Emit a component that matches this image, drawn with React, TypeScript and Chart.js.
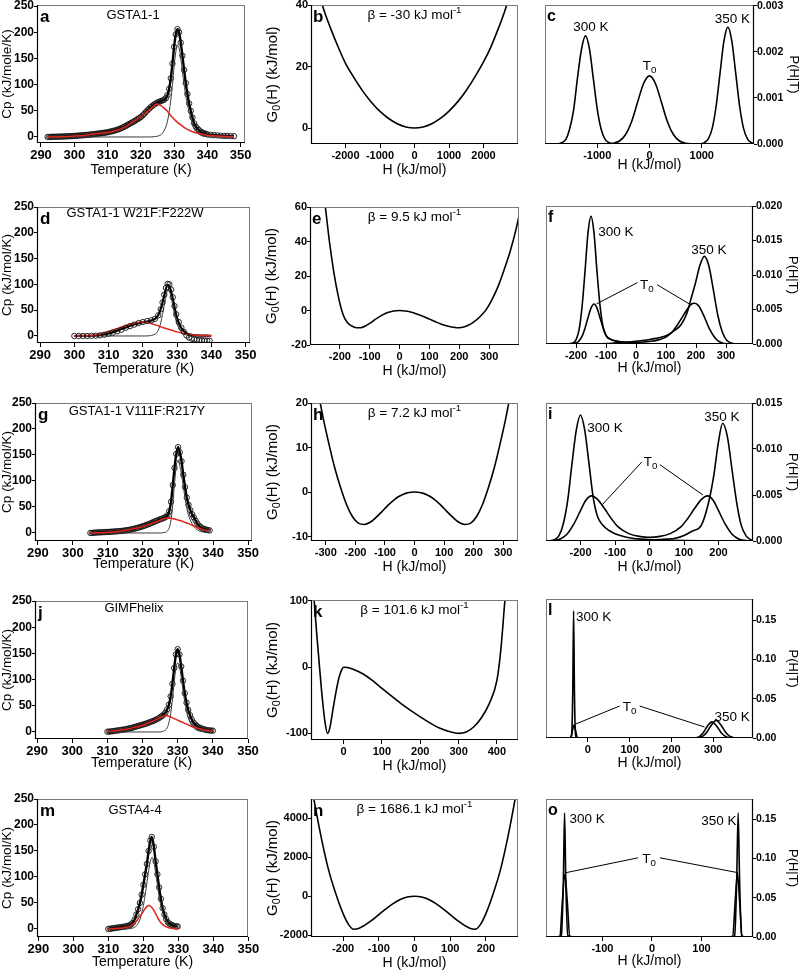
import React, { useEffect, useRef } from 'react';
import { Chart, registerables } from 'chart.js';

Chart.register(...registerables);

const FONT = "'Liberation Sans', Arial, Helvetica, sans-serif";
const RED = '#e1261c';
const GRAY = '#3a3a3a';

// ---------------- tick labels ----------------
const T_TICKS = [290, 300, 310, 320, 330, 340, 350];
const CP_TICKS = [0, 50, 100, 150, 200, 250];

// ---------------- panel a : GSTA1-1 ----------------
const aT = [292, 292.5, 293, 293.5, 294, 294.5, 295, 295.5, 296, 296.5, 297, 297.5, 298, 298.5, 299, 299.5, 300, 300.5, 301, 301.5, 302, 302.5, 303, 303.5, 304, 304.5, 305, 305.5, 306, 306.5, 307, 307.5, 308, 308.5, 309, 309.5, 310, 310.5, 311, 311.5, 312, 312.5, 313, 313.5, 314, 314.5, 315, 315.5, 316, 316.5, 317, 317.5, 318, 318.5, 319, 319.5, 320, 320.5, 321, 321.5, 322, 322.5, 323, 323.5, 324, 324.5, 325, 325.5, 326, 326.5, 327, 327.5, 328, 328.5, 329, 329.5, 330, 330.5, 331, 331.5, 332, 332.5, 333, 333.5, 334, 334.5, 335, 335.5, 336, 336.5, 337, 337.5, 338, 338.5, 339, 339.5, 340, 341, 342, 343, 344, 345, 346, 347, 348];
const aCp = [0, 0.1, 0.2, 0.3, 0.4, 0.5, 0.6, 0.7, 0.8, 0.9, 1, 1.2, 1.3, 1.5, 1.6, 1.8, 2, 2.2, 2.5, 2.7, 3, 3.2, 3.5, 3.8, 4, 4.4, 4.8, 5.2, 5.5, 5.9, 6.3, 6.7, 7.2, 7.6, 8, 8.5, 9, 9.7, 10.5, 11.2, 12, 13, 14, 15.2, 16.5, 18, 19.5, 21.2, 23, 24.7, 26.5, 28.2, 30, 32, 34, 36, 38, 41, 44, 47.5, 51, 54, 57, 59.5, 62, 64, 66, 67.2, 68.5, 69.7, 71, 74, 80, 92, 112, 140, 172, 196, 206, 200, 180, 155, 128, 103, 82, 64, 50, 37, 26, 20, 16, 13, 10, 8.5, 7, 6, 5, 4, 3.5, 3, 2.5, 2, 2, 1.5, 1.5];
const aRedT = [292, 296, 300, 304, 308, 310, 312, 314, 316, 318, 320, 322, 323.5, 324.8, 326, 327, 328, 329, 330, 331, 332, 333, 334, 335, 336, 338, 340, 343, 346, 348];
const aRedCp = [0, 0.5, 1.8, 4, 7, 8.5, 11.5, 15.5, 22, 30, 38.5, 49, 57, 63, 60, 55, 49, 41, 34, 28, 23, 18.5, 14.5, 11.5, 9, 5.5, 3.5, 1.8, 1, 0.8];
const aPkT = [292, 322, 324, 325, 326, 327, 328, 329, 329.5, 330, 330.5, 331, 331.5, 332, 332.5, 333, 333.5, 334, 335, 336, 337, 338, 340, 342, 348];
const aPkCp = [0, 0, 0.5, 1.5, 4, 12, 30, 70, 100, 135, 162, 175, 170, 150, 125, 100, 78, 62, 36, 16, 8, 3, 0.5, 0, 0];

// ---------------- panel d : GSTA1-1 W21F:F222W ----------------
const dT = [300, 301.25, 302.5, 303.75, 305, 306.25, 307.5, 308.75, 310, 311.25, 312.5, 313.75, 315, 316.25, 317.5, 318.75, 320, 321.25, 322.5, 323.5, 324.5, 325.25, 325.75, 326.25, 326.75, 327.25, 327.75, 328.25, 328.75, 329.25, 329.75, 330.5, 331.25, 332, 332.75, 333.5, 334.25, 335, 335.75, 336.5, 337.25, 338, 338.75, 339.5];
const dCp = [0, 0, 0, 0, 0.3, 0.6, 1.2, 2.5, 4.5, 6.5, 9, 12, 16, 19, 22, 25, 27, 29, 30.5, 33, 40, 52, 65, 80, 93, 101, 100, 90, 75, 58, 42, 27, 16, 8, 1, -3, -5, -6.5, -7.5, -8, -8.3, -8.6, -9, -9];
const dFitT = [300, 305, 308, 310, 312, 314, 316, 318, 319.5, 321, 322.5, 323.5, 324.5, 325.5, 326.5, 327.2, 327.8, 328.5, 329.3, 330, 331, 332, 333, 334, 336, 340];
const dFitCp = [0, 0.5, 2.5, 5, 9, 14, 19, 23.5, 26, 28, 30, 33, 40, 58, 85, 99, 96, 80, 55, 35, 18, 9, 4.5, 2.5, 1, 0.5];
const dRedT = [300, 303, 305, 307, 309, 311, 313, 315, 317, 319, 320, 321, 322, 323, 324, 325, 326, 327, 328, 329, 330, 331, 332, 334, 336, 338, 340];
const dRedCp = [0, 0.3, 1, 3, 6.5, 11, 15.5, 20, 24, 26.5, 27, 26.5, 25, 23, 21, 18.5, 16, 14, 12, 10, 8, 6.5, 5, 3, 1.5, 0.8, 0.5];
const dPkT = [300, 321, 322, 323, 324, 325, 326, 326.5, 327, 327.5, 328, 328.5, 329, 329.5, 330, 331, 332, 333, 334, 336, 340];
const dPkCp = [0, 0, 0.5, 2, 6, 20, 50, 68, 84, 90, 82, 68, 50, 35, 24, 10, 4, 1.5, 0.5, 0, 0];

// ---------------- panel g : GSTA1-1 V111F:R217Y ----------------
const gT = [305, 305.5, 306, 306.5, 307, 307.5, 308, 308.5, 309, 309.5, 310, 310.5, 311, 311.5, 312, 312.5, 313, 313.5, 314, 314.5, 315, 315.5, 316, 316.5, 317, 317.5, 318, 318.5, 319, 319.5, 320, 320.5, 321, 321.5, 322, 322.5, 323, 323.5, 324, 324.5, 325, 325.5, 326, 326.5, 327, 327.5, 328, 328.5, 329, 329.5, 330, 330.5, 331, 331.5, 332, 332.5, 333, 333.5, 334, 334.5, 335, 335.5, 336, 336.5, 337, 337.5, 338, 338.5, 339];
const gCp = [0, 0.2, 0.5, 0.7, 1, 1.2, 1.3, 1.5, 1.7, 1.9, 2, 2.2, 2.5, 2.7, 3, 3.2, 3.5, 3.7, 4, 4.5, 5, 5.5, 6, 6.7, 7.5, 8.2, 9, 10, 11, 12, 13, 14.2, 15.5, 16.7, 18, 19.5, 21, 22.5, 24, 25.2, 26.5, 27.7, 29, 31, 34, 42, 60, 92, 125, 152, 165, 155, 138, 112, 88, 68, 54, 44, 36, 30, 24, 18, 14, 11, 9, 7.5, 6.5, 5.7, 5];
const gRedT = [305, 310, 314, 318, 320, 322, 324, 326, 327, 328, 329, 330, 331, 332, 333, 334, 335, 336, 337, 338, 339];
const gRedCp = [0, 1.5, 4, 9, 12.5, 17, 22, 27.5, 29, 28.5, 27, 25, 23, 20.5, 18, 15, 12, 9, 7, 5.5, 4.5];
const gPkT = [305, 325, 326, 327, 328, 328.5, 329, 329.5, 330, 330.5, 331, 331.5, 332, 332.5, 333, 334, 335, 336, 337, 338, 339];
const gPkCp = [0, 0, 1, 4, 25, 55, 95, 128, 140, 130, 112, 90, 67, 48, 34, 18, 9, 4, 2, 1, 0.5];

// ---------------- panel j : GIMFhelix ----------------
const jT = [310, 310.5, 311, 311.5, 312, 312.5, 313, 313.5, 314, 314.5, 315, 315.5, 316, 316.5, 317, 317.5, 318, 318.5, 319, 319.5, 320, 320.5, 321, 321.5, 322, 322.5, 323, 323.5, 324, 324.5, 325, 325.5, 326, 326.5, 327, 327.5, 328, 328.5, 329, 329.5, 330, 330.5, 331, 331.5, 332, 332.5, 333, 333.5, 334, 334.5, 335, 335.5, 336, 336.5, 337, 337.5, 338, 338.5, 339, 339.5, 340];
const jCp = [0.5, 0.7, 1, 1.5, 2, 2.5, 3, 3.5, 4, 4.5, 5, 5.7, 6.5, 7.2, 8, 9, 10, 11, 12, 13, 14, 15, 16, 17.2, 18.5, 19.7, 21, 22.5, 24, 26, 28, 30.5, 33, 37, 43, 52, 68, 92, 122, 148, 158, 148, 125, 98, 74, 56, 42, 32, 24, 18, 14, 11, 9, 7.5, 6, 5, 4, 3.5, 3, 2.7, 2.5];
const jRedT = [310, 313, 316, 318, 320, 322, 324, 325.5, 326.5, 327.5, 328.5, 329.5, 330.5, 331.5, 332.5, 333.5, 334.5, 336, 338, 340];
const jRedCp = [1, 3, 6, 9.5, 13, 18, 24, 29, 31.5, 30, 27, 24, 21, 18, 15, 12, 9.5, 6.5, 3.5, 2];
const jPkT = [310, 325, 326, 327, 327.5, 328, 328.5, 329, 329.5, 330, 330.5, 331, 331.5, 332, 332.5, 333, 334, 335, 336, 337, 340];
const jPkCp = [0, 0, 2, 8, 18, 35, 62, 95, 122, 132, 125, 105, 80, 58, 40, 27, 12, 5, 2, 1, 0];

// ---------------- panel m : GSTA4-4 ----------------
const mT = [310, 310.5, 311, 311.5, 312, 312.5, 313, 313.5, 314, 314.5, 315, 315.5, 316, 316.5, 317, 317.5, 318, 318.5, 319, 319.5, 320, 320.5, 321, 321.5, 322, 322.4, 323, 323.5, 324, 324.5, 325, 325.5, 326, 326.5, 327, 327.5, 328, 328.5, 329, 329.5, 329.8];
const mCp = [0, 0.5, 1, 1.5, 2, 2.5, 3, 3.5, 4, 4.5, 5, 6, 7, 9, 12, 18, 28, 38, 50, 66, 85, 105, 125, 150, 170, 177, 158, 130, 105, 80, 58, 40, 28, 19, 13, 10, 8, 6.5, 5, 5, 5];
const mRedT = [310, 312, 314, 316, 317, 318, 319, 320, 320.5, 321, 321.5, 322, 322.5, 323, 323.5, 324, 324.5, 325, 326, 327, 328, 329, 330];
const mRedCp = [0, 1, 2, 5, 9, 15, 24, 34, 39, 43, 45, 44, 41, 36, 30, 23, 17, 12, 6, 3, 1.5, 0.8, 0.5];
const mPkT = [310, 316, 317, 318, 319, 320, 320.5, 321, 321.5, 322, 322.5, 323, 323.5, 324, 324.5, 325, 326, 327, 328, 329, 330];
const mPkCp = [0, 0.5, 2, 6, 18, 45, 65, 88, 112, 130, 138, 128, 108, 85, 62, 45, 22, 10, 4, 1.5, 0.5];

// ---------------- column 2 : G0(H) ----------------
const bH = [-2800, -2600, -2400, -2200, -2000, -1750, -1500, -1250, -1000, -750, -500, -250, 0, 250, 500, 750, 1000, 1250, 1500, 1750, 2000, 2200, 2400, 2600, 2800];
const bG = [44.5, 37.5, 31.5, 26, 21, 16.3, 12, 8.4, 5.4, 3.1, 1.4, 0.35, 0, 0.35, 1.4, 3.1, 5.5, 8.5, 12.2, 16.6, 21.5, 26, 31.5, 37.5, 44.5];

const eH = [-265, -250, -235, -220, -205, -190, -175, -160, -145, -130, -115, -100, -80, -60, -40, -20, 0, 20, 40, 60, 80, 100, 120, 140, 160, 180, 200, 215, 230, 250, 270, 290, 310, 330, 350, 370, 390, 410];
const eG = [80, 62, 40, 22, 8, -2, -7, -9, -10, -10, -9, -7.5, -5, -2.8, -1.2, -0.3, 0, -0.3, -1, -2.2, -3.5, -5, -6.5, -7.9, -9, -9.7, -10, -9.6, -8.6, -6.5, -3.5, 0.5, 6.5, 14, 23.5, 34, 47, 63];

const hH = [-330, -310, -290, -270, -250, -230, -210, -190, -170, -150, -130, -110, -90, -70, -50, -30, -10, 0, 10, 30, 50, 70, 90, 110, 130, 150, 170, 190, 210, 230, 250, 270, 290, 310, 330];
const hG = [24, 17, 11, 5.5, 1, -2.8, -5.5, -7, -7.3, -6.8, -5.7, -4.4, -3, -1.8, -0.9, -0.3, -0.05, 0, -0.05, -0.3, -0.9, -1.8, -3, -4.4, -5.7, -6.8, -7.3, -7, -5.5, -2.8, 1, 5.5, 11, 17, 24];

const kH = [-80, -70, -62, -55, -48, -42, -36, -28, -20, -12, -5, 0, 10, 25, 50, 75, 100, 150, 200, 250, 280, 300, 320, 340, 360, 380, 400, 410, 420, 428];
const kG = [125, 50, -5, -50, -85, -100, -92, -65, -38, -16, -4, 0, -0.5, -3, -10, -20, -32, -55, -75, -92, -98, -100, -98, -90, -76, -55, -20, 25, 95, 150];

const nH = [-300, -280, -260, -240, -220, -200, -185, -170, -155, -140, -120, -100, -80, -60, -40, -20, 0, 20, 40, 60, 80, 100, 120, 140, 155, 170, 185, 200, 220, 240, 260, 280, 300];
const nG = [7000, 4800, 2900, 1300, 100, -900, -1450, -1700, -1650, -1500, -1250, -950, -650, -380, -170, -40, 0, -40, -170, -380, -650, -950, -1250, -1500, -1650, -1700, -1450, -900, 100, 1300, 2900, 4800, 7000];

// ---------------- column 3 : P(H|T) ----------------
const c300H = [-2000, -1760, -1680, -1600, -1530, -1450, -1380, -1300, -1225, -1150, -1075, -1000, -925, -850, -770, -700, -600];
const c300P = [0, 0.000005, 0.00003, 0.0001, 0.00032, 0.00076, 0.00142, 0.00207, 0.00235, 0.00207, 0.00142, 0.00076, 0.00032, 0.0001, 0.00003, 0.000005, 0];
const cT0H = [-1000, -805, -690, -575, -460, -345, -230, -115, 0, 115, 230, 345, 460, 575, 690, 805, 1000];
const cT0P = [0, 0.000003, 0.000016, 0.000065, 0.0002, 0.00048, 0.0009, 0.00131, 0.00148, 0.00131, 0.0009, 0.00048, 0.0002, 0.000065, 0.000016, 0.000003, 0];
const c350H = [800, 975, 1050, 1125, 1200, 1275, 1350, 1425, 1500, 1575, 1650, 1725, 1800, 1875, 1950, 2000];
const c350P = [0, 0.000006, 0.00003, 0.00011, 0.00034, 0.00082, 0.00154, 0.00224, 0.00254, 0.00224, 0.00154, 0.00082, 0.00034, 0.00011, 0.00003, 0.00001];

const f300H = [-230, -210, -200, -190, -180, -170, -160, -150, -140, -130, -120, -110, -100, -80, -60, -30, 0, 50, 100];
const f300P = [0, 0.00013, 0.0006, 0.002, 0.0053, 0.0105, 0.0161, 0.0185, 0.0161, 0.0105, 0.0056, 0.0025, 0.0012, 0.0006, 0.0004, 0.0002, 0.0001, 0.00004, 0];
const fT0H = [-230, -200, -190, -180, -170, -160, -150, -140, -130, -120, -110, -100, -90, -75, -50, -25, 0, 25, 50, 75, 100, 120, 140, 160, 175, 185, 195, 205, 215, 230, 245, 260, 275, 290, 310];
const fT0P = [0, 0.00014, 0.00044, 0.0011, 0.0023, 0.0038, 0.0052, 0.0058, 0.0052, 0.0038, 0.0024, 0.0013, 0.0008, 0.0005, 0.0003, 0.00025, 0.00025, 0.0003, 0.0004, 0.0006, 0.001, 0.0017, 0.0029, 0.0043, 0.0053, 0.0058, 0.0059, 0.0057, 0.0051, 0.0037, 0.0022, 0.0011, 0.0004, 0.0001, 0];
const f350H = [-150, -100, -50, 0, 50, 100, 130, 150, 170, 185, 198, 213, 228, 243, 258, 273, 288, 303, 320, 335];
const f350P = [0, 0.00005, 0.0002, 0.0004, 0.0007, 0.0012, 0.002, 0.0028, 0.0045, 0.0068, 0.0088, 0.0114, 0.0127, 0.0113, 0.0078, 0.0041, 0.0017, 0.0005, 0.0001, 0];

const i300H = [-300, -287, -275, -262, -250, -237, -225, -212, -200, -188, -175, -163, -150, -135, -120, -100, -75, -50, -25, 0, 50, 100, 150, 200];
const i300P = [0, 0.00003, 0.00015, 0.0006, 0.00185, 0.00445, 0.0083, 0.0121, 0.0137, 0.0121, 0.0083, 0.0047, 0.0026, 0.0017, 0.0012, 0.0008, 0.0005, 0.0003, 0.0002, 0.00015, 0.0001, 0.00005, 0.00002, 0];
const iT0H = [-290, -260, -240, -220, -200, -185, -168, -150, -130, -110, -90, -60, -30, 0, 30, 60, 90, 110, 130, 150, 168, 185, 200, 220, 240, 260, 290];
const iT0P = [0, 0.0002, 0.0007, 0.0018, 0.0033, 0.0044, 0.0049, 0.0045, 0.0035, 0.0024, 0.0015, 0.0008, 0.0005, 0.0004, 0.0005, 0.0008, 0.0015, 0.0024, 0.0035, 0.0045, 0.0049, 0.0044, 0.0033, 0.0018, 0.0007, 0.0002, 0];
const i350H = [-200, -100, -50, 0, 50, 75, 100, 125, 150, 170, 185, 200, 212, 226, 239, 253, 266, 280, 293, 300];
const i350P = [0, 0.00002, 0.00005, 0.0001, 0.0002, 0.0003, 0.0006, 0.0011, 0.0017, 0.004, 0.0068, 0.0108, 0.0128, 0.0113, 0.0078, 0.0041, 0.0017, 0.00056, 0.00014, 0.00005];

const l300H = [-60, -42, -38.5, -36, -34, -32, -29.5, -26, 0];
const l300P = [0, 0, 0.005, 0.06, 0.162, 0.06, 0.005, 0, 0];
const lT0H = [-60, -45, -41, -37, -33, -29, -25, -10, 0, 100, 200, 250, 262, 275, 287, 297, 307, 320, 333, 345, 360];
const lT0P = [0, 0, 0.0003, 0.009, 0.0165, 0.009, 0.0003, 0, 0, 0, 0, 0, 0.0005, 0.006, 0.016, 0.0205, 0.016, 0.006, 0.0008, 0, 0];
const l350H = [240, 250, 262, 275, 285, 295, 307, 319, 329, 339, 350, 360];
const l350P = [0, 0, 0.0002, 0.0023, 0.0077, 0.016, 0.0225, 0.016, 0.0077, 0.0023, 0.0003, 0];

const o300H = [-214, -190, -183, -179, -176.5, -174, -170, -160, -100];
const o300P = [0, 0, 0.002, 0.07, 0.158, 0.07, 0.002, 0, 0];
const oT0H = [-214, -195, -186, -181, -176, -171, -166, -155, 0, 155, 163, 168, 172.5, 177, 182, 190, 204];
const oT0P = [0, 0, 0.001, 0.045, 0.08, 0.045, 0.001, 0, 0, 0, 0.001, 0.045, 0.081, 0.045, 0.001, 0, 0];
const o350H = [100, 160, 167, 171, 174, 177, 181, 188, 204];
const o350P = [0, 0, 0.002, 0.07, 0.158, 0.07, 0.002, 0, 0];

// ---------------- layout & drawing helpers ----------------
const PL = 45, PT = 14, PR = 55, PB = 40;

type Txt = { t: string; x: number; y: number; c: 'd' | 'a'; size: number; bold?: boolean; align?: 'left' | 'center' | 'right'; rot?: number };
type Ds = { x: number[]; y: number[]; color: string; width: number; points?: boolean };
type PanelSpec = {
  box: [number, number, number, number];
  xr: [number, number];
  yr: [number, number];
  xt: number[];
  yt: number[];
  yDec: number;
  yRight?: boolean;
  xSize: number;
  ySize: number;
  ds: Ds[];
  texts: Txt[];
  lines?: number[][];
};

function parseRich(s: string) {
  const segs: { t: string; k: number }[] = [];
  let i = 0;
  let buf = '';
  while (i < s.length) {
    const ch = s[i];
    if ((ch === '_' || ch === '^') && s[i + 1] === '{') {
      if (buf) { segs.push({ t: buf, k: 0 }); buf = ''; }
      const end = s.indexOf('}', i);
      segs.push({ t: s.slice(i + 2, end), k: ch === '_' ? 1 : 2 });
      i = end + 1;
    } else { buf += ch; i++; }
  }
  if (buf) segs.push({ t: buf, k: 0 });
  return segs;
}

function drawRich(ctx: CanvasRenderingContext2D, s: string, x: number, y: number, size: number, bold: boolean, align: string, rot: number) {
  const segs = parseRich(s);
  const f = (sz: number) => `${bold ? 'bold ' : ''}${sz}px ${FONT}`;
  let total = 0;
  const widths = segs.map((sg) => {
    ctx.font = f(sg.k ? size * 0.72 : size);
    const w = ctx.measureText(sg.t).width;
    total += w;
    return w;
  });
  ctx.save();
  ctx.translate(x, y);
  if (rot) ctx.rotate(rot);
  let cx = align === 'left' ? 0 : align === 'right' ? -total : -total / 2;
  ctx.textBaseline = 'middle';
  ctx.textAlign = 'left';
  ctx.fillStyle = '#000';
  segs.forEach((sg, i) => {
    ctx.font = f(sg.k ? size * 0.72 : size);
    const dy = sg.k === 1 ? size * 0.3 : sg.k === 2 ? -size * 0.35 : 0;
    ctx.fillText(sg.t, cx, dy);
    cx += widths[i];
  });
  ctx.restore();
}

function overlay(p: PanelSpec) {
  return {
    id: 'overlay',
    afterDraw(chart: any) {
      const ctx: CanvasRenderingContext2D = chart.ctx;
      const { left, top, right, bottom } = chart.chartArea;
      const xs = chart.scales.x;
      const ys = chart.scales.y;
      ctx.save();
      ctx.strokeStyle = '#7a7a7a';
      ctx.lineWidth = 1;
      ctx.strokeRect(Math.round(left) + 0.5, Math.round(top) + 0.5, Math.round(right - left) - 1, Math.round(bottom - top) - 1);
      ctx.strokeStyle = '#000';
      ctx.lineWidth = 1.2;
      ctx.beginPath();
      ctx.moveTo(left, Math.round(bottom) - 0.5);
      ctx.lineTo(right, Math.round(bottom) - 0.5);
      const ax = p.yRight ? Math.round(right) - 0.5 : Math.round(left) + 0.5;
      ctx.moveTo(ax, top);
      ctx.lineTo(ax, bottom);
      ctx.stroke();
      if (p.lines) {
        ctx.lineWidth = 1;
        ctx.beginPath();
        p.lines.forEach((l) => {
          ctx.moveTo(xs.getPixelForValue(l[0]), ys.getPixelForValue(l[1]));
          ctx.lineTo(xs.getPixelForValue(l[2]), ys.getPixelForValue(l[3]));
        });
        ctx.stroke();
      }
      p.texts.forEach((t) => {
        const px = t.c === 'd' ? xs.getPixelForValue(t.x) : left + t.x;
        const py = t.c === 'd' ? ys.getPixelForValue(t.y) : top + t.y;
        drawRich(ctx, t.t, px, py, t.size, !!t.bold, t.align || 'center', t.rot || 0);
      });
      ctx.restore();
    },
  };
}

function makeConfig(p: PanelSpec): any {
  const killPad = (s: any) => { s.paddingLeft = 0; s.paddingRight = 0; s.paddingTop = 0; s.paddingBottom = 0; };
  const grid = { display: true, drawOnChartArea: false, drawTicks: true, tickLength: 4, color: '#000', lineWidth: 1 };
  return {
    type: 'line',
    data: {
      datasets: p.ds.map((d) => ({
        data: d.x.map((xv, i) => ({ x: xv, y: d.y[i] })),
        borderColor: d.color,
        borderWidth: d.width,
        pointRadius: d.points ? 2.7 : 0,
        pointBorderWidth: 0.9,
        pointBorderColor: '#111',
        pointBackgroundColor: 'rgba(255,255,255,0)',
        cubicInterpolationMode: 'monotone',
        fill: false,
      })),
    },
    options: {
      animation: false,
      responsive: false,
      devicePixelRatio: 1,
      events: [],
      layout: { padding: { left: p.yRight ? PL : 0, top: PT, right: p.yRight ? 0 : PR, bottom: 0 } },
      plugins: { legend: { display: false }, tooltip: { enabled: false }, title: { display: false } },
      scales: {
        x: {
          type: 'linear',
          position: 'bottom',
          min: p.xr[0],
          max: p.xr[1],
          afterBuildTicks: (s: any) => { s.ticks = p.xt.map((v) => ({ value: v })); },
          afterFit: (s: any) => { s.height = PB; killPad(s); },
          ticks: { font: { family: FONT, size: p.xSize, weight: 'bold' }, color: '#000', padding: 1, autoSkip: false, maxRotation: 0, callback: (v: any) => String(v) },
          grid,
          border: { display: false },
        },
        y: {
          type: 'linear',
          position: p.yRight ? 'right' : 'left',
          min: p.yr[0],
          max: p.yr[1],
          afterBuildTicks: (s: any) => { s.ticks = p.yt.map((v) => ({ value: v })); },
          afterFit: (s: any) => { s.width = p.yRight ? PR : PL; killPad(s); },
          ticks: { font: { family: FONT, size: p.ySize, weight: 'bold' }, color: '#000', padding: 0, autoSkip: false, callback: (v: any) => Number(v).toFixed(p.yDec) },
          grid: { ...grid, tickLength: 3 },
          border: { display: false },
        },
      },
    },
    plugins: [overlay(p)],
  };
}

// ---------------- panel specs ----------------
const circ = (x: number[], y: number[]): Ds => ({ x, y, color: '#000', width: 2.4, points: true });
const fitL = (x: number[], y: number[]): Ds => ({ x, y, color: '#000', width: 2.2 });
const red = (x: number[], y: number[]): Ds => ({ x, y, color: RED, width: 1.5 });
const thin = (x: number[], y: number[]): Ds => ({ x, y, color: GRAY, width: 1 });
const blk = (x: number[], y: number[]): Ds => ({ x, y, color: '#000', width: 1.6 });

function col1Texts(box: number[], letter: string, title: string, titleX: number, titleY: number, ytitle: string, xOff: number): Txt[] {
  const w = box[2] - box[0];
  const h = box[3] - box[1];
  return [
    { t: letter, c: 'a', x: 3, y: 12, size: 17, bold: true, align: 'left' },
    { t: title, c: 'a', x: titleX, y: titleY, size: 13 },
    { t: ytitle, c: 'a', x: 7 - box[0], y: h / 2, size: 13.5, rot: -Math.PI / 2 },
    { t: 'Temperature (K)', c: 'a', x: w / 2, y: h + xOff, size: 14 },
  ];
}

function col2Texts(box: number[], letter: string, beta: string): Txt[] {
  const w = box[2] - box[0];
  const h = box[3] - box[1];
  return [
    { t: letter, c: 'a', x: 2, y: 12.5, size: 17, bold: true, align: 'left' },
    { t: `β = ${beta} kJ mol^{-1}`, c: 'a', x: w / 2, y: 10, size: 13.5 },
    { t: 'G_{0}(H) (kJ/mol)', c: 'a', x: -38, y: h / 2, size: 15, rot: -Math.PI / 2 },
    { t: 'H (kJ/mol)', c: 'a', x: w / 2, y: h + 26, size: 14 },
  ];
}

function col3Texts(box: number[], letter: string, xOff: number): Txt[] {
  const w = box[2] - box[0];
  const h = box[3] - box[1];
  return [
    { t: letter, c: 'a', x: 2, y: 12, size: 16, bold: true, align: 'left' },
    { t: 'P(H|T)', c: 'a', x: w + 40, y: h / 2, size: 13, rot: Math.PI / 2 },
    { t: 'H (kJ/mol)', c: 'a', x: w / 2, y: h + xOff, size: 14 },
  ];
}

const BOX: Record<string, [number, number, number, number]> = {
  a: [37, 5, 245, 143], d: [37, 207, 250, 343], g: [35, 403, 252, 541], j: [35, 601, 248, 739], m: [37, 799, 248, 937],
  b: [311, 5, 518, 144], e: [310, 207, 519, 345], h: [311, 403, 518, 541], k: [311, 600, 518, 740], n: [311, 799, 518, 937],
  c: [545, 5, 754, 144], f: [546, 206, 753, 344], i: [546, 403, 753, 541], l: [546, 599, 753, 738], o: [546, 799, 753, 937],
};

const C1 = { xSize: 13, ySize: 12 };
const C2 = { xSize: 11, ySize: 11 };
const C3 = { xSize: 11, ySize: 10.5 };

const PANELS: PanelSpec[] = [
  { box: BOX.a, xr: [288.8, 351.3], yr: [-11.5, 252], xt: T_TICKS, yt: CP_TICKS, yDec: 0, ...C1,
    ds: [red(aRedT, aRedCp), thin(aPkT, aPkCp), circ(aT, aCp)],
    texts: col1Texts(BOX.a, 'a', 'GSTA1-1', 96, 10, 'Cp (kJ/mole/K)', 27) },
  { box: BOX.d, xr: [289.1, 351.3], yr: [-13.6, 250], xt: T_TICKS, yt: CP_TICKS, yDec: 0, ...C1,
    ds: [{ x: dT, y: dCp, color: 'rgba(0,0,0,0)', width: 0, points: true }, red(dRedT, dRedCp), thin(dPkT, dPkCp), fitL(dFitT, dFitCp)],
    texts: col1Texts(BOX.d, 'd', 'GSTA1-1 W21F:F222W', 98, 6, 'Cp (kJ/mol/K)', 26) },
  { box: BOX.g, xr: [289.2, 351.1], yr: [-15.4, 250], xt: T_TICKS, yt: CP_TICKS, yDec: 0, ...C1,
    ds: [red(gRedT, gRedCp), thin(gPkT, gPkCp), circ(gT, gCp)],
    texts: col1Texts(BOX.g, 'g', 'GSTA1-1 V111F:R217Y', 102, 8, 'Cp (kJ/mol/K)', 23) },
  { box: BOX.j, xr: [289.4, 350], yr: [-13.4, 250], xt: T_TICKS, yt: CP_TICKS, yDec: 0, ...C1,
    ds: [red(jRedT, jRedCp), thin(jPkT, jPkCp), circ(jT, jCp)],
    texts: col1Texts(BOX.j, 'j', 'GIMFhelix', 99, 7, 'Cp (kJ/mol/K)', 24) },
  { box: BOX.m, xr: [289.6, 349.9], yr: [-15.4, 250], xt: T_TICKS, yt: CP_TICKS, yDec: 0, ...C1,
    ds: [red(mRedT, mRedCp), thin(mPkT, mPkCp), circ(mT, mCp)],
    texts: col1Texts(BOX.m, 'm', 'GSTA4-4', 98, 11, 'Cp (kJ/mol/K)', 25) },

  { box: BOX.b, xr: [-3000, 3000], yr: [-5.2, 40], xt: [-2000, -1000, 0, 1000, 2000], yt: [0, 20, 40], yDec: 0, ...C2,
    ds: [blk(bH, bG)], texts: col2Texts(BOX.b, 'b', '-30') },
  { box: BOX.e, xr: [-300, 400], yr: [-20, 60], xt: [-200, -100, 0, 100, 200, 300], yt: [-20, 0, 20, 40, 60], yDec: 0, ...C2,
    ds: [blk(eH, eG)], texts: col2Texts(BOX.e, 'e', '9.5') },
  { box: BOX.h, xr: [-350, 350], yr: [-11, 20], xt: [-300, -200, -100, 0, 100, 200, 300], yt: [-10, 0, 10, 20], yDec: 0, ...C2,
    ds: [blk(hH, hG)], texts: col2Texts(BOX.h, 'h', '7.2') },
  { box: BOX.k, xr: [-85, 455], yr: [-110, 101.5], xt: [0, 100, 200, 300, 400], yt: [-100, 0, 100], yDec: 0, ...C2,
    ds: [blk(kH, kG)], texts: col2Texts(BOX.k, 'k', '101.6') },
  { box: BOX.n, xr: [-290, 290], yr: [-2100, 5000], xt: [-200, -100, 0, 100, 200], yt: [-2000, 0, 2000, 4000], yDec: 0, ...C2,
    ds: [blk(nH, nG)], texts: col2Texts(BOX.n, 'n', '1686.1') },

  { box: BOX.c, xr: [-2000, 2000], yr: [0, 0.00302], xt: [-1000, 0, 1000], yt: [0, 0.001, 0.002, 0.003], yDec: 3, yRight: true, ...C3,
    ds: [blk(c300H, c300P), blk(cT0H, cT0P), blk(c350H, c350P)],
    texts: [...col3Texts(BOX.c, 'c', 21),
      { t: '300 K', c: 'd', x: -1122, y: 0.00254, size: 13.5 },
      { t: 'T_{0}', c: 'd', x: 0, y: 0.00169, size: 13.5 },
      { t: '350 K', c: 'd', x: 1586, y: 0.0027, size: 13.5 }] },
  { box: BOX.f, xr: [-300, 390], yr: [0, 0.02], xt: [-200, -100, 0, 100, 200, 300], yt: [0, 0.005, 0.01, 0.015, 0.02], yDec: 3, yRight: true, ...C3,
    ds: [blk(f300H, f300P), blk(fT0H, fT0P), blk(f350H, f350P)],
    texts: [...col3Texts(BOX.f, 'f', 24),
      { t: '300 K', c: 'd', x: -67, y: 0.0162, size: 13.5 },
      { t: 'T_{0}', c: 'd', x: 36, y: 0.0085, size: 13.5 },
      { t: '350 K', c: 'd', x: 243, y: 0.0136, size: 13.5 }],
    lines: [[5, 0.0089, -132, 0.0058], [70, 0.0086, 182, 0.0057]] },
  { box: BOX.i, xr: [-300, 300], yr: [0, 0.015], xt: [-200, -100, 0, 100, 200], yt: [0, 0.005, 0.01, 0.015], yDec: 3, yRight: true, ...C3,
    ds: [blk(i300H, i300P), blk(iT0H, iT0P), blk(i350H, i350P)],
    texts: [...col3Texts(BOX.i, 'i', 26),
      { t: '300 K', c: 'd', x: -129, y: 0.0122, size: 13.5 },
      { t: 'T_{0}', c: 'd', x: 3, y: 0.0086, size: 13.5 },
      { t: '350 K', c: 'd', x: 210, y: 0.0135, size: 13.5 }],
    lines: [[-22, 0.0086, -138, 0.0039], [30, 0.0083, 155, 0.005]] },
  { box: BOX.l, xr: [-100, 395], yr: [0, 0.177], xt: [0, 100, 200, 300], yt: [0, 0.05, 0.1, 0.15], yDec: 2, yRight: true, ...C3,
    ds: [blk(l300H, l300P), blk(lT0H, lT0P), blk(l350H, l350P)],
    texts: [...col3Texts(BOX.l, 'l', 25),
      { t: '300 K', c: 'd', x: 14, y: 0.154, size: 13.5 },
      { t: 'T_{0}', c: 'd', x: 100, y: 0.0394, size: 13.5 },
      { t: '350 K', c: 'd', x: 345, y: 0.0267, size: 13.5 }],
    lines: [[76, 0.0407, -29, 0.0178], [124, 0.0407, 279, 0.014]] },
  { box: BOX.o, xr: [-214, 204], yr: [0, 0.176], xt: [-100, 0, 100], yt: [0, 0.05, 0.1, 0.15], yDec: 2, yRight: true, ...C3,
    ds: [blk(o300H, o300P), blk(oT0H, oT0P), blk(o350H, o350P)],
    texts: [...col3Texts(BOX.o, 'o', 24),
      { t: '300 K', c: 'd', x: -131, y: 0.15, size: 13.5 },
      { t: 'T_{0}', c: 'd', x: -6, y: 0.0987, size: 13.5 },
      { t: '350 K', c: 'd', x: 135, y: 0.147, size: 13.5 }],
    lines: [[-28, 0.101, -174, 0.082], [16, 0.101, 174, 0.082]] },
];

function PanelChart({ p }: { p: PanelSpec }) {
  const ref = useRef<HTMLCanvasElement>(null);
  useEffect(() => {
    const chart = new Chart(ref.current as HTMLCanvasElement, makeConfig(p));
    return () => chart.destroy();
  }, [p]);
  const [l, t, r, b] = p.box;
  const w = r - l + PL + PR;
  const h = b - t + PT + PB;
  return (
    <canvas
      ref={ref}
      width={w}
      height={h}
      style={{ position: 'absolute', left: l - PL, top: t - PT, width: w, height: h }}
    />
  );
}

export default function App() {
  return (
    <div style={{ position: 'absolute', left: 0, top: 0, width: 805, height: 972, overflow: 'hidden', background: '#fff' }}>
      {PANELS.map((p, i) => (
        <PanelChart key={i} p={p} />
      ))}
    </div>
  );
}
